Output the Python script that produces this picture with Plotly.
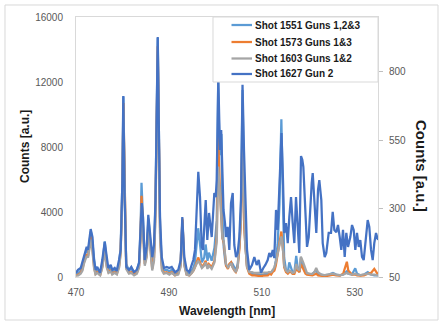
import plotly.graph_objects as go

# ---- Data ----
# Shot 1627 Gun 2 (secondary axis)
wl_1627 = [470.00, 470.43, 471.01, 471.40, 471.72, 472.30, 472.58, 473.16, 473.55, 473.87,
           474.24, 474.58, 475.17, 475.66, 476.18, 476.61, 476.95, 477.47, 477.81, 478.33,
           478.76, 479.26, 479.62, 479.97, 480.18, 480.48, 480.83, 481.41, 481.90, 482.48,
           483.07, 483.56, 483.93, 484.14, 484.42, 484.79, 485.22, 485.56, 485.93, 486.42,
           486.79, 487.11, 487.59, 487.93, 488.08, 488.45, 488.94, 489.52, 490.08, 490.60,
           491.31, 492.02, 492.54, 492.88, 493.31, 493.83, 494.39, 494.90, 495.25, 495.61,
           495.98, 496.32, 496.69, 497.06, 497.34, 497.55, 497.92, 498.26, 498.63, 499.21,
           499.77, 500.07, 500.28, 500.63, 500.99, 501.25, 501.53, 501.75, 502.07, 502.29,
           502.65, 503.00, 503.36, 503.73, 504.07, 504.44, 504.80, 505.15, 505.51, 505.84,
           506.16, 506.44, 506.81, 507.30, 507.88, 508.38, 508.89, 509.32, 509.82, 510.32,
           510.75, 511.26, 511.61, 511.97, 512.34, 512.68, 513.05, 513.41, 513.76, 514.23,
           514.55, 514.83, 515.20, 515.57, 515.91, 516.28, 516.64, 516.99, 517.35, 517.72,
           518.06, 518.43, 518.71, 518.93, 519.35, 519.72, 520.09, 520.43, 520.73, 520.95,
           521.29, 521.72, 522.09, 522.37, 522.80, 523.10, 523.53, 523.87, 524.39, 524.89,
           525.25, 525.60, 526.03, 526.39, 526.76, 527.10, 527.47, 527.83, 528.18, 528.55,
           529.04, 529.41, 529.77, 530.12, 530.48, 530.85, 531.19, 531.56, 531.92, 532.27,
           532.78, 533.13, 533.50, 533.86, 534.20, 534.57, 535.00]
shot_1627 = [65, 76, 83, 105, 123, 160, 149, 225, 196, 112,
             76, 87, 65, 112, 178, 112, 83, 94, 76, 83,
             72, 112, 149, 393, 711, 331, 87, 76, 87, 68,
             76, 101, 211, 320, 269, 112, 160, 277, 211, 123,
             167, 331, 927, 514, 269, 123, 83, 87, 83, 87,
             68, 76, 112, 269, 123, 76, 68, 94, 112, 149,
             331, 434, 342, 160, 149, 233, 331, 185, 284, 196,
             357, 342, 404, 773, 514, 587, 404, 295, 247, 196,
             233, 149, 320, 357, 167, 123, 138, 196, 331, 752,
             514, 331, 149, 76, 94, 123, 94, 112, 65, 83,
             94, 112, 138, 123, 149, 119, 295, 222, 368, 576,
             404, 211, 247, 174, 269, 342, 247, 174, 342, 211,
             138, 492, 478, 452, 269, 160, 196, 320, 393, 430,
             331, 211, 368, 404, 331, 174, 123, 138, 211, 211,
             288, 222, 214, 240, 196, 149, 222, 123, 211, 160,
             196, 240, 222, 149, 211, 160, 185, 123, 112, 174,
             258, 233, 149, 112, 174, 211, 185]

# Shots on primary axis (shared wavelength grid)
wl_main = [470.0, 470.5, 471.0, 471.4, 471.7, 472.3, 472.6, 473.2, 473.5, 473.9,
           474.2, 474.6, 475.2, 475.7, 476.2, 476.6, 477.0, 477.5, 477.8, 478.3,
           478.8, 479.3, 479.6, 480.0, 480.2, 480.5, 480.8, 481.4, 481.9, 482.5,
           483.1, 483.6, 483.9, 484.1, 484.4, 484.8, 485.2, 485.6, 485.9, 486.4,
           486.8, 487.1, 487.6, 487.9, 488.1, 488.5, 488.9, 489.5, 490.1, 490.6,
           491.3, 492.0, 492.5, 492.9, 493.3, 493.8, 494.4, 494.9, 495.3, 495.6,
           496.0, 496.3, 496.7, 497.1, 497.6, 497.9, 498.3, 498.6, 499.2, 499.8,
           500.3, 500.6, 500.9, 501.3, 501.5, 501.8, 502.1, 502.3, 502.7, 503.0,
           503.4, 503.7, 504.1, 504.4, 504.8, 505.2, 505.5, 505.85, 506.2, 506.4,
           506.8, 507.3, 507.9, 508.4, 508.9, 509.3, 509.8, 510.3, 510.8, 511.3,
           511.6, 512.0, 512.3, 512.7, 513.0, 513.4, 513.8, 514.2, 514.6, 514.8,
           515.2, 515.6, 515.9, 516.3, 516.6, 517.0, 517.4, 517.7, 518.1, 518.4,
           518.9, 519.4, 519.7, 520.4, 520.9, 521.3, 521.7, 522.1, 522.8, 523.5,
           524.4, 525.3, 526.0, 526.8, 527.5, 528.0, 528.3, 528.6, 529.4, 530.1,
           530.5, 531.2, 532.0, 532.8, 533.5, 534.2, 535.0]
shot_1551 = [200, 250, 400, 700, 1100, 1700, 1500, 2800, 2200, 800,
             300, 400, 200, 900, 2200, 900, 400, 600, 300, 500,
             300, 900, 1800, 6000, 11100, 5000, 800, 400, 500, 250,
             400, 900, 3000, 5800, 3800, 1000, 1600, 3600, 2500, 700,
             1500, 4500, 14700, 7000, 3000, 700, 400, 450, 350, 450,
             200, 300, 800, 3500, 900, 250, 200, 400, 600, 900,
             2000, 3000, 2000, 900, 1200, 2000, 1000, 1500, 1000, 1800,
             3500, 12000, 7500, 8800, 4000, 1800, 1000, 700, 600, 700,
             900, 800, 500, 400, 800, 2000, 4000, 11500, 4000, 2200,
             700, 300, 200, 200, 150, 150, 100, 150, 200, 200,
             300, 250, 400, 500, 1000, 2000, 4500, 9700, 4000, 1200,
             400, 300, 900, 600, 300, 300, 1300, 600, 300, 1200,
             600, 300, 200, 150, 200, 300, 400, 200, 150, 100,
             150, 250, 150, 100, 150, 300, 350, 200, 150, 535,
             200, 100, 150, 300, 150, 100, 100]
shot_1573 = [100, 150, 250, 500, 900, 1400, 1300, 2500, 1900, 600,
             200, 300, 100, 700, 1900, 700, 300, 400, 200, 300,
             200, 700, 1500, 5500, 10700, 4500, 600, 250, 300, 150,
             250, 700, 2600, 5000, 3400, 800, 1300, 3200, 2200, 500,
             1200, 4000, 14200, 6500, 2600, 500, 250, 300, 200, 300,
             100, 200, 700, 3600, 800, 150, 100, 250, 400, 600,
             900, 1200, 900, 600, 800, 1000, 600, 800, 600, 1000,
             2500, 8700, 6000, 3300, 2400, 2100, 1000, 700, 500, 800,
             900, 600, 400, 300, 600, 1800, 3500, 9700, 3000, 2000,
             600, 200, 100, 100, 80, 100, 50, 80, 100, 100,
             200, 150, 300, 400, 700, 1500, 2000, 2800, 1500, 600,
             300, 200, 300, 300, 200, 200, 500, 400, 300, 800,
             500, 200, 150, 100, 100, 150, 200, 100, 80, 50,
             80, 150, 100, 80, 200, 700, 940, 400, 150, 150,
             100, 80, 100, 200, 250, 500, 150]
shot_1603 = [80, 100, 200, 400, 800, 1300, 1200, 2300, 1700, 500,
             150, 250, 100, 600, 1700, 600, 250, 350, 150, 250,
             150, 600, 1400, 5200, 10300, 4200, 500, 200, 250, 100,
             200, 600, 2300, 4400, 3100, 700, 1200, 2900, 2000, 400,
             1000, 3600, 13500, 6000, 2300, 400, 200, 250, 150, 250,
             100, 150, 600, 3300, 700, 150, 100, 250, 400, 600,
             800, 1000, 800, 550, 700, 900, 500, 700, 500, 900,
             2200, 6800, 5500, 3500, 2400, 2200, 1200, 800, 600, 700,
             850, 600, 400, 300, 600, 2400, 3500, 8200, 3000, 2090,
             630, 300, 300, 250, 250, 250, 250, 250, 280, 280,
             300, 300, 400, 600, 900, 1500, 2000, 2500, 1500, 700,
             400, 300, 400, 350, 250, 300, 800, 500, 400, 1250,
             900, 400, 250, 200, 200, 300, 550, 300, 150, 120,
             150, 200, 150, 120, 150, 200, 250, 200, 150, 200,
             150, 120, 150, 200, 150, 150, 100]

series_names = ["Shot 1551 Guns 1,2&3", "Shot 1573 Guns 1&3", "Shot 1603 Guns 1&2", "Shot 1627 Gun 2"]
series_colors = ["#5B9BD5", "#ED7D31", "#A5A5A5", "#4472C4"]

x_ticks = [470, 490, 510, 530]
y_left_ticks = [0, 4000, 8000, 12000, 16000]
y_right_ticks = [50, 300, 550, 800]

FONT = "Liberation Sans, Arial, sans-serif"
TICK_COLOR = "#595959"
TITLE_COLOR = "#1a1a1a"
BORDER = "#d9d9d9"
LW = 2.25

fig = go.Figure()
for name, color, ys in zip(series_names[:3], series_colors[:3], [shot_1551, shot_1573, shot_1603]):
    fig.add_trace(go.Scatter(x=wl_main, y=ys, mode="lines", name=name,
                             line=dict(color=color, width=LW), yaxis="y"))
fig.add_trace(go.Scatter(x=wl_1627, y=shot_1627, mode="lines", name=series_names[3],
                         line=dict(color=series_colors[3], width=LW), yaxis="y2"))

# Compact legend box (Excel-style), drawn in paper coordinates
leg_x0, leg_x1, leg_y0, leg_y1 = 0.4536, 1.0, 0.75, 1.0
leg_rows = [0.9692, 0.9038, 0.8404, 0.7808]
leg_line_x0, leg_line_x1, leg_text_x = 0.5149, 0.5828, 0.5861

shapes = [dict(type="rect", xref="paper", yref="paper", x0=-0.2351, x1=1.1987,
               y0=-0.1654, y1=1.0462, line=dict(color=BORDER, width=1), layer="below"),
          dict(type="rect", xref="paper", yref="paper", x0=leg_x0, x1=leg_x1,
               y0=leg_y0, y1=leg_y1, line=dict(color=BORDER, width=1),
               fillcolor="white", layer="above")]
annotations = []
for name, color, ry in zip(series_names, series_colors, leg_rows):
    shapes.append(dict(type="line", xref="paper", yref="paper", x0=leg_line_x0, x1=leg_line_x1,
                       y0=ry, y1=ry, line=dict(color=color, width=LW), layer="above"))
    annotations.append(dict(text="<b>%s</b>" % name, xref="paper", yref="paper", x=leg_text_x, y=ry,
                            showarrow=False, xanchor="left", yanchor="middle",
                            font=dict(family=FONT, size=10, color=TITLE_COLOR)))

annotations += [
    dict(text="<b>Counts [a.u.]</b>", xref="paper", yref="paper", x=0, y=0.5,
         xshift=-51, textangle=-90, showarrow=False, xanchor="center", yanchor="middle",
         font=dict(family=FONT, size=12, color=TITLE_COLOR)),
    dict(text="<b>Counts [a.u.]</b>", xref="paper", yref="paper", x=1, y=0.427,
         xshift=43, textangle=90, showarrow=False, xanchor="center", yanchor="middle",
         font=dict(family=FONT, size=15, color=TITLE_COLOR)),
    dict(text="<b>Wavelength [nm]</b>", xref="paper", yref="paper", x=0.5, y=0,
         yshift=-34, showarrow=False, xanchor="center", yanchor="middle",
         font=dict(family=FONT, size=12, color=TITLE_COLOR)),
]

fig.update_layout(
    width=443, height=324,
    margin=dict(l=76, r=65, t=17, b=47),
    paper_bgcolor="white", plot_bgcolor="white",
    font=dict(family=FONT, size=10, color=TICK_COLOR),
    showlegend=False,
    xaxis=dict(range=[470, 535], tickvals=x_ticks, ticktext=[str(v) for v in x_ticks],
               ticks="", showgrid=False, zeroline=False,
               showline=True, linecolor=BORDER, linewidth=1, mirror=True,
               tickfont=dict(size=10, color=TICK_COLOR), ticklabelstandoff=6),
    yaxis=dict(range=[0, 16000], tickvals=y_left_ticks, ticktext=[str(v) for v in y_left_ticks],
               ticks="", showgrid=False, zeroline=False,
               showline=True, linecolor=BORDER, linewidth=1, mirror=True,
               tickfont=dict(size=10, color=TICK_COLOR), ticklabelstandoff=10),
    yaxis2=dict(range=[50, 1000], tickvals=y_right_ticks, ticktext=[str(v) for v in y_right_ticks],
                overlaying="y", side="right",
                ticks="outside", ticklen=4, tickcolor="#bfbfbf", showgrid=False, zeroline=False,
                showline=False, tickfont=dict(size=10, color=TICK_COLOR), ticklabelstandoff=4),
    annotations=annotations,
    shapes=shapes,
)

fig.write_html("out.html", config={"displayModeBar": False},
               post_script="document.body.style.margin='0';")
